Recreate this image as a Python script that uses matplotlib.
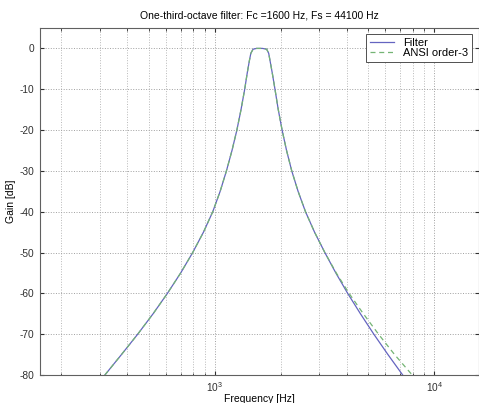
import numpy as np
import matplotlib
matplotlib.use("Agg")
import matplotlib.pyplot as plt
from matplotlib.ticker import LogLocator, NullFormatter

plt.rcParams['font.family'] = ['Liberation Sans', 'DejaVu Sans']
plt.rcParams['axes.unicode_minus'] = False

# values (Hz, dB)
left_freq = [316, 376, 446, 524, 609, 700, 794, 889, 980, 1059, 1131, 1199, 1262, 1318,
             1370, 1407, 1439, 1461, 1495, 1550, 1600]
left_gain = [-80, -75, -70, -65, -60, -55, -50, -45, -40, -35, -30, -25, -20, -15,
             -10, -6, -3, -1.2, -0.2, 0, 0]

filt_right_freq = [1650, 1725, 1762, 1787, 1829, 1882, 1948, 2028, 2125, 2244, 2398, 2592,
                   2850, 3175, 3563, 4035, 4613, 5308, 6157, 7185]
filt_right_gain = [0, -0.2, -1.2, -3, -6, -10, -15, -20, -25, -30, -35, -40,
                   -45, -50, -55, -60, -65, -70, -75, -80]

ansi_right_freq = [1650, 1725, 1762, 1787, 1829, 1882, 1948, 2028, 2125, 2244, 2398, 2592,
                   2850, 3175, 3580, 4093, 4756, 5576, 6600, 7940]
ansi_right_gain = filt_right_gain

fc = 1600
fs = 44100
x_lim = [fc / 10, fc * 10]
y_lim = [-80, 5]
y_ticks = list(range(-80, 1, 10))

filt_freq = left_freq + filt_right_freq
filt_gain = left_gain + filt_right_gain
ansi_freq = left_freq + ansi_right_freq
ansi_gain = left_gain + ansi_right_gain

fig = plt.figure(figsize=(4.79, 4.03), dpi=100)
ax = fig.add_axes([40 / 479, 1 - 375 / 403, 1 - 40 / 479, 347 / 403])

ax.semilogx(filt_freq, filt_gain, color='#6464c0', lw=0.9, label='Filter')
ax.semilogx(ansi_freq, ansi_gain, color='#74b474', lw=0.9, ls=(0, (4, 3)), label='ANSI order-3')

ax.set_xlim(x_lim)
ax.set_ylim(y_lim)
ax.set_yticks(y_ticks)
ax.xaxis.set_major_locator(LogLocator(base=10))
ax.xaxis.set_minor_locator(LogLocator(base=10, subs=np.arange(2, 10)))
ax.xaxis.set_minor_formatter(NullFormatter())

ax.grid(True, which='major', ls=':', color='#a0a0a0', lw=0.7)
ax.grid(True, which='minor', axis='x', ls=':', color='#b8b8b8', lw=0.7)

ax.tick_params(which='both', direction='in', top=True, right=True, labelsize=7.3,
               colors='#303030', length=3, pad=4)
ax.tick_params(which='minor', length=1.8)
for s in ax.spines.values():
    s.set_color('#606060')
    s.set_linewidth(0.8)

ax.set_title('One-third-octave filter: Fc =%d Hz, Fs = %d Hz' % (fc, fs), fontsize=7.5, pad=7)
ax.set_xlabel('Frequency [Hz]', fontsize=7.5, labelpad=0)
ax.set_ylabel('Gain [dB]', fontsize=7.5, labelpad=3)

leg = ax.legend(loc='upper right', bbox_to_anchor=(0.984, 0.983), borderaxespad=0,
                fontsize=8, fancybox=False, framealpha=1, edgecolor='#505050',
                handlelength=2.2, borderpad=0.35, labelspacing=0.0, handletextpad=0.8)
leg.get_frame().set_linewidth(0.7)

fig.savefig('out.png', dpi=100)
